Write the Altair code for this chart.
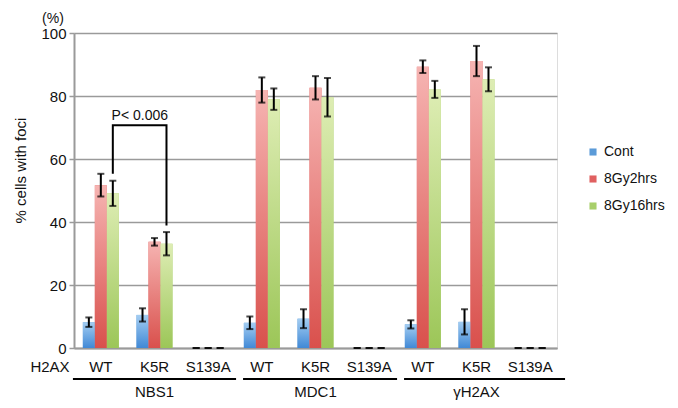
import altair as alt
import pandas as pd

groups = ["NBS1", "MDC1", "γH2AX"]
mutants = ["WT", "K5R", "S139A"]
series = ["Cont", "8Gy2hrs", "8Gy16hrs"]

cont = [8.2, 10.5, 0, 8.0, 9.3, 0, 7.5, 8.3, 0]
cont_err = [1.5, 2.1, 0, 2.0, 3.0, 0, 1.3, 4.0, 0]
gy2 = [51.7, 33.7, 0, 81.9, 82.6, 0, 89.3, 91.1, 0]
gy2_err = [3.6, 1.2, 0, 4.0, 3.7, 0, 2.0, 4.8, 0]
gy16 = [49.1, 33.1, 0, 79.0, 79.6, 0, 82.1, 85.3, 0]
gy16_err = [4.0, 3.7, 0, 3.4, 6.1, 0, 2.7, 3.8, 0]

y_ticks = [0, 20, 40, 60, 80, 100]

# significance bracket (NBS1 WT vs K5R, 8Gy16hrs)
bracket_keys = ["NBS1|WT", "NBS1|WT", "NBS1|K5R", "NBS1|K5R"]
bracket_vals = [55.3, 70.7, 70.7, 38.9]
p_label = "P< 0.006"
p_label_y = 73.5

# group underline extents, in category-index units
line_start = [-0.52, 2.65, 5.65]
line_end = [2.52, 5.52, 8.65]
group_center = [1, 4, 7]

keys = [f"{g}|{m}" for g in groups for m in mutants]
rows = []
for i, k in enumerate(keys):
    for s, vals, errs in zip(series, [cont, gy2, gy16], [cont_err, gy2_err, gy16_err]):
        rows.append({"key": k, "series": s, "value": vals[i],
                     "lo": vals[i] - errs[i], "hi": vals[i] + errs[i]})
df = pd.DataFrame(rows)

W, H = 483, 315
GRAY = "#9a9a9a"
FONT = "Liberation Sans"

def grad(top, bottom):
    return {"gradient": "linear", "x1": 0, "y1": 0, "x2": 0, "y2": 1,
            "stops": [{"offset": 0, "color": top}, {"offset": 1, "color": bottom}]}

g_blue = grad("#a3cdf2", "#4189d6")
g_red = grad("#f6b4b2", "#d9504c")
g_green = grad("#deedb4", "#9cc658")

xenc = alt.X("key:N", sort=keys,
             scale=alt.Scale(paddingInner=0.33, paddingOuter=0.165),
             axis=alt.Axis(title=None, labelExpr="split(datum.value, '|')[1]",
                           labelAngle=0, tickSize=0, labelPadding=11,
                           labelFontSize=15, labelColor="#111",
                           domainColor=GRAY, domainWidth=2))
xoff = alt.XOffset("series:N", sort=series,
                   scale=alt.Scale(domain=series, paddingInner=0, paddingOuter=0))
yscale = alt.Scale(domain=[0, 100], nice=False)
yenc = alt.Y("value:Q", scale=yscale,
             axis=alt.Axis(values=y_ticks, title="% cells with foci",
                           titleFontSize=15, titleFontWeight="normal",
                           titleColor="#111", titleX=-54, titleY=137,
                           titleBaseline="middle",
                           labelFontSize=15, labelColor="#111", labelPadding=3,
                           tickSize=5, tickColor=GRAY, tickWidth=1.5,
                           gridColor=GRAY, gridWidth=1.5,
                           domainColor=GRAY, domainWidth=2))

base = alt.Chart(df)

bars = base.mark_bar().encode(
    x=xenc, xOffset=xoff, y=yenc,
    color=alt.Color("series:N", sort=series,
                    scale=alt.Scale(domain=series, range=["#5b9bd8", "#e06060", "#a8cf6a"]),
                    legend=alt.Legend(title=None, orient="none", legendX=512, legendY=112,
                                      symbolType="square", symbolSize=50,
                                      symbolStrokeWidth=0, labelFontSize=14,
                                      labelColor="#111", rowPadding=13, labelOffset=4)),
)

grad_bars = base.mark_bar().encode(
    x=xenc, xOffset=xoff, y=alt.Y("value:Q", scale=yscale),
    fill={"condition": [{"test": "datum.series === 'Cont'", "value": g_blue},
                        {"test": "datum.series === '8Gy2hrs'", "value": g_red}],
          "value": g_green},
)

err_rule = base.mark_rule(color="black", strokeWidth=2).encode(
    x=xenc, xOffset=xoff, y=alt.Y("lo:Q", scale=yscale), y2="hi:Q")
cap_lo = base.mark_tick(color="black", size=7, thickness=2).encode(
    x=xenc, xOffset=xoff, y=alt.Y("lo:Q", scale=yscale))
cap_hi = base.mark_tick(color="black", size=7, thickness=2).encode(
    x=xenc, xOffset=xoff, y=alt.Y("hi:Q", scale=yscale))

brk_df = pd.DataFrame({"key": bracket_keys, "series": ["8Gy16hrs"] * 4,
                       "value": bracket_vals, "order": [0, 1, 2, 3]})
bracket = alt.Chart(brk_df).mark_line(color="black", strokeWidth=2).encode(
    x=xenc, xOffset=xoff, y=alt.Y("value:Q", scale=yscale), order="order:Q")

p_df = pd.DataFrame({"key": ["NBS1|WT"], "series": ["8Gy16hrs"],
                     "value": [p_label_y], "t": [p_label]})
p_text = alt.Chart(p_df).mark_text(fontSize=14, dx=27, baseline="middle",
                                   color="#111", font=FONT).encode(
    x=xenc, xOffset=xoff, y=alt.Y("value:Q", scale=yscale), text="t:N")

h2ax = alt.Chart(pd.DataFrame({"t": ["H2AX"]})).mark_text(
    fontSize=15, color="#111", baseline="middle", font=FONT).encode(
    x=alt.value(-24), y=alt.value(H + 19), text="t:N")
pct = alt.Chart(pd.DataFrame({"t": ["(%)"]})).mark_text(
    fontSize=14, color="#111", baseline="middle", font=FONT).encode(
    x=alt.value(-21), y=alt.value(-14), text="t:N")

main = alt.layer(bars, grad_bars, err_rule, cap_lo, cap_hi, bracket, p_text, h2ax, pct)

lines_df = pd.DataFrame({"g": groups, "start": line_start, "end": line_end,
                         "center": group_center})
qx = alt.Scale(domain=[-0.5, 8.5], nice=False, zero=False)
glines = alt.Chart(lines_df).mark_rule(color="black", strokeWidth=2).encode(
    x=alt.X("start:Q", scale=qx, axis=None), x2="end:Q", y=alt.value(H + 31))
glabels = alt.Chart(lines_df).mark_text(fontSize=15, color="#111", baseline="middle",
                                        font=FONT).encode(
    x=alt.X("center:Q", scale=qx, axis=None), y=alt.value(H + 44), text="g:N")
annot = alt.layer(glines, glabels)

chart = alt.layer(main, annot).resolve_scale(x="independent").properties(
    width=W, height=H, autosize=alt.AutoSizeParams(type="none"),
    padding={"left": 66, "top": 25, "right": 113, "bottom": 55},
).configure_view(stroke=None).configure(font=FONT)

chart.save("out.html", embed_options={"renderer": "svg", "actions": False})
